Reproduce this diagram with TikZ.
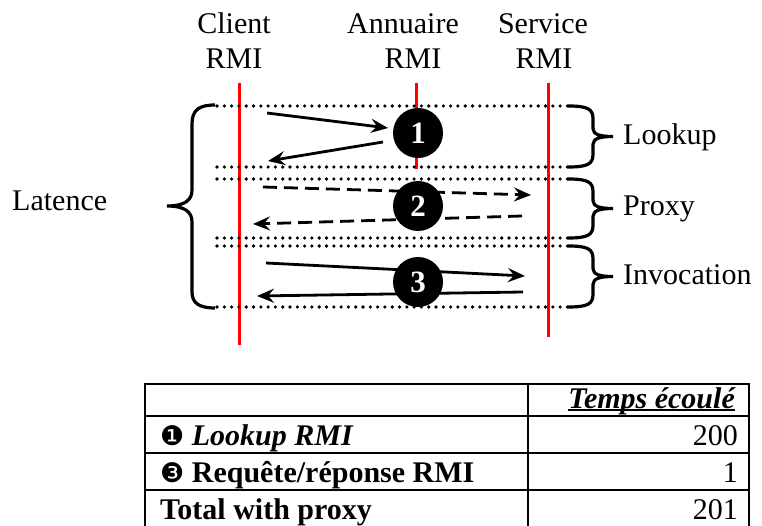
\documentclass[tikz,border=0pt]{standalone}
\usepackage{fontspec}
\setmainfont{Liberation Serif}
\newfontfamily\djv{DejaVu Sans}
\usetikzlibrary{arrows.meta}
\newcommand\mybrace[3]{% top, middle, bottom
  \draw[bracestyle] (568,#1) .. controls (588,#1) and (593,{#1+3}) .. (593,{#1+13})
    -- (593,{#2-8}) .. controls (593,{#2-2}) and (600,#2) .. (613,#2)
    .. controls (600,#2) and (593,{#2+2}) .. (593,{#2+8})
    -- (593,{#3-13}) .. controls (593,{#3-3}) and (588,#3) .. (568,#3);}
\begin{document}
\begin{tikzpicture}[x=1pt,y=-1pt,
  lbl/.style={font=\fontsize{30}{34}\selectfont, inner sep=0pt},
  redline/.style={red, line width=3pt},
  dotline/.style={line width=3.6pt, line cap=round, dash pattern=on 0pt off 7.3pt},
  msg/.style={line width=2.8pt, -{Stealth[length=17pt,width=14pt,inset=6pt]}},
  dmsg/.style={msg, dash pattern=on 14pt off 7pt},
  num/.style={circle, fill=black, minimum size=50pt, inner sep=0pt, text=white,
    font=\fontsize{31}{34}\selectfont\bfseries},
  bracestyle/.style={line width=3.2pt},
  tbl/.style={line width=2.6pt},
  cell/.style={font=\fontsize{30}{34}\selectfont, inner sep=0pt, anchor=base west},
  cellr/.style={cell, anchor=base east},
  ]
\useasboundingbox (0,0) rectangle (762,526);
\clip (0,0) rectangle (762,526);

% titles
\node[lbl, anchor=base] (c1) at (234,34) {Client};
\node[lbl, anchor=base] (c2) at (234,69) {RMI};
\node[lbl, anchor=base] (a1) at (403,34) {Annuaire};
\node[lbl, anchor=base] (a2) at (413,69) {RMI};
\node[lbl, anchor=base] (s1) at (543,34) {Service};
\node[lbl, anchor=base] (s2) at (544,69) {RMI};

% red lifelines
\coordinate (ct) at (239,83); \coordinate (cb) at (239,345);
\coordinate (at) at (416,83); \coordinate (ab) at (416,169);
\coordinate (st) at (548,83); \coordinate (sb) at (548,337);
\draw[redline] (ct) -- (cb);
\draw[redline] (at) -- (ab);
\draw[redline] (st) -- (sb);

% dotted separators
\foreach \y/\n in {106/1,167/2,179/3,238/4,246/5,307/6}{
  \coordinate (dl\n) at (217,\y); \coordinate (dr\n) at (573,\y);
  \draw[dotline] (dl\n) -- (dr\n);
}

% left brace
\draw[bracestyle] (215,105) .. controls (199,105) and (192,110) .. (192,124)
  -- (192,190) .. controls (192,200) and (185,206) .. (167,206)
  .. controls (185,206) and (192,212) .. (192,222)
  -- (192,292) .. controls (192,303) and (199,308) .. (215,308);
% right braces
\mybrace{106}{136.5}{167}
\mybrace{179}{208.5}{238}
\mybrace{246}{276.5}{307}

% labels
\node[lbl, anchor=base west] (lat) at (12,211) {Latence};
\node[lbl, anchor=base west] (lk) at (623,145) {Lookup};
\node[lbl, anchor=base west] (px) at (623,216) {Proxy};
\node[lbl, anchor=base west] (iv) at (623,285) {Invocation};

% messages
\coordinate (m1s) at (267,113); \coordinate (m1e) at (388,128);
\coordinate (m2s) at (383,142); \coordinate (m2e) at (268,161);
\coordinate (m3s) at (263,187); \coordinate (m3e) at (531,195);
\coordinate (m4s) at (522,216); \coordinate (m4e) at (253,224);
\coordinate (m5s) at (266,263); \coordinate (m5e) at (525,276);
\coordinate (m6s) at (523,292); \coordinate (m6e) at (257,296);
\draw[msg] (m1s) -- (m1e);
\draw[msg] (m2s) -- (m2e);
\draw[dmsg] (m3s) -- (m3e);
\draw[dmsg] (m4s) -- (m4e);
\draw[msg] (m5s) -- (m5e);
\draw[msg] (m6s) -- (m6e);

% numbered circles
\node[num] (n1) at (418,133) {1};
\node[num] (n2) at (418,206) {2};
\node[num] (n3) at (418,282) {3};

% table
\draw[tbl] (145,540) -- (145,384) -- (749,384) -- (749,540);
\draw[tbl] (528,384) -- (528,540);
\draw[tbl] (145,416) -- (749,416);
\draw[tbl] (145,453) -- (749,453);
\draw[tbl] (145,490) -- (749,490);

\node[cellr] (th) at (735,408) {\bfseries\itshape Temps écoulé};
\draw[line width=2pt] ([yshift=-2pt]th.base west) -- ([yshift=-2pt]th.base east);
\node[cell] (r1a) at (160,445) {{\djv\fontsize{27}{30}\selectfont ❶} \bfseries\itshape Lookup RMI};
\node[cellr] (r1b) at (738,445) {200};
\node[cell] (r2a) at (160,482) {{\djv\fontsize{27}{30}\selectfont ❸} \bfseries Requête/réponse RMI};
\node[cellr] (r2b) at (738,482) {1};
\node[cell] (r3a) at (160,519) {\bfseries Total with proxy};
\node[cellr] (r3b) at (738,519) {201};
\end{tikzpicture}
\end{document}
